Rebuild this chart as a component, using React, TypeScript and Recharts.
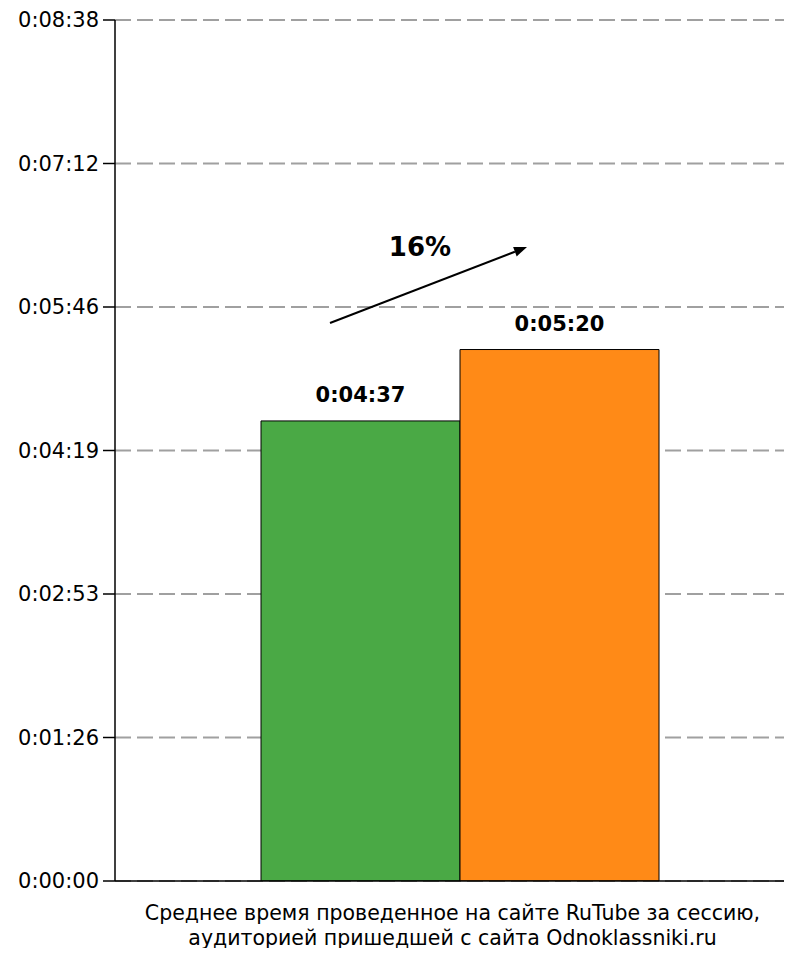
import React from "react";
import { BarChart, Bar, XAxis, YAxis, CartesianGrid, LabelList, ReferenceLine, ReferenceDot } from "recharts";

const categories = ["Среднее время проведенное на сайте RuTube за сессию,|аудиторией пришедшей с сайта Odnoklassniki.ru"];
const beforeValues = [277];
const afterValues = [320];
const yTicks = [0, 86.4, 172.8, 259.2, 345.6, 432, 518.4];
const growthLabel = "16%";
const arrowStart = { x: 0.3176, y: 336 };
const arrowEnd = { x: 0.6086, y: 381.7 };
const growthLabelPos = { x: 0.4505, y: 381.7 };

const data = categories.map((c, i) => ({ name: c, before: beforeValues[i], after: afterValues[i], frac: 0.5 }));

const fmt = (v: number) => {
  const s = Math.round(v);
  const h = Math.floor(s / 3600);
  const m = Math.floor((s % 3600) / 60);
  const sec = s % 60;
  return `${h}:${String(m).padStart(2, "0")}:${String(sec).padStart(2, "0")}`;
};

const FONT = "'DejaVu Sans', Verdana, sans-serif";

const XTick = (props: any) => {
  const { x, y, payload } = props;
  const lines = String(payload.value).split("|");
  return (
    <text x={x - 7} y={y} textAnchor="middle" fontFamily={FONT} fontSize={20.5} fill="#000">
      {lines.map((l, i) => (
        <tspan key={i} x={x - 7} dy={i === 0 ? 31 : 25}>{l}</tspan>
      ))}
    </text>
  );
};

const Arrow = (props: any) => {
  const { x1, y1, x2, y2 } = props;
  const dx = x2 - x1;
  const dy = y2 - y1;
  const len = Math.sqrt(dx * dx + dy * dy) || 1;
  const ux = dx / len;
  const uy = dy / len;
  const hl = 13;
  const hw = 5;
  const bx = x2 - ux * hl;
  const by = y2 - uy * hl;
  const p1 = `${x2},${y2}`;
  const p2 = `${bx - uy * hw},${by + ux * hw}`;
  const p3 = `${bx + uy * hw},${by - ux * hw}`;
  return (
    <g>
      <line x1={x1} y1={y1} x2={bx} y2={by} stroke="#000" strokeWidth={2} />
      <polygon points={`${p1} ${p2} ${p3}`} fill="#000" />
    </g>
  );
};

export default function App() {
  return (
    <div style={{ width: 776, height: 940, overflow: "visible" }}>
      <BarChart
        width={784}
        height={948}
        data={data}
        margin={{ top: 12, right: 0, bottom: 0, left: 0 }}
        barCategoryGap={0}
        barGap={0}
        style={{ fontFamily: FONT }}
      >
        <CartesianGrid vertical={false} stroke="#a0a0a0" strokeWidth={2} strokeDasharray="16 6" />
        <XAxis
          dataKey="name"
          padding={{ left: 146, right: 134 }}
          tickLine={false}
          axisLine={{ stroke: "#000", strokeWidth: 1.5 }}
          height={75}
          tick={<XTick />}
          interval={0}
        />
        <XAxis xAxisId="n" dataKey="frac" type="number" scale="linear" domain={[0, 1]} hide allowDataOverflow />
        <YAxis
          width={107}
          domain={[0, 518.4]}
          ticks={yTicks}
          tickFormatter={fmt}
          tickSize={12}
          tickMargin={4}
          interval={0}
          allowDataOverflow
          axisLine={{ stroke: "#000", strokeWidth: 1.5 }}
          tickLine={{ stroke: "#000", strokeWidth: 1.5 }}
          tick={{ fill: "#000", fontSize: 21, fontFamily: FONT }}
        />
        <Bar dataKey="before" fill="#4aa945" stroke="#000" strokeWidth={1} isAnimationActive={false}>
          <LabelList dataKey="before" position="top" offset={19} formatter={(v: any) => fmt(v)} fill="#000" fontSize={21} fontWeight="bold" fontFamily={FONT} />
        </Bar>
        <Bar dataKey="after" fill="#ff8a17" stroke="#000" strokeWidth={1} isAnimationActive={false}>
          <LabelList dataKey="after" position="top" offset={19} formatter={(v: any) => fmt(v)} fill="#000" fontSize={21} fontWeight="bold" fontFamily={FONT} />
        </Bar>
        <ReferenceLine
          xAxisId="n"
          segment={[arrowStart, arrowEnd]}
          ifOverflow="visible"
          shape={<Arrow />}
        />
        <ReferenceDot
          xAxisId="n"
          x={growthLabelPos.x}
          y={growthLabelPos.y}
          r={0}
          fill="none"
          stroke="none"
          ifOverflow="visible"
          label={{ value: growthLabel, position: "center", fill: "#000", fontSize: 26, fontWeight: "bold", fontFamily: FONT }}
        />
      </BarChart>
    </div>
  );
}
